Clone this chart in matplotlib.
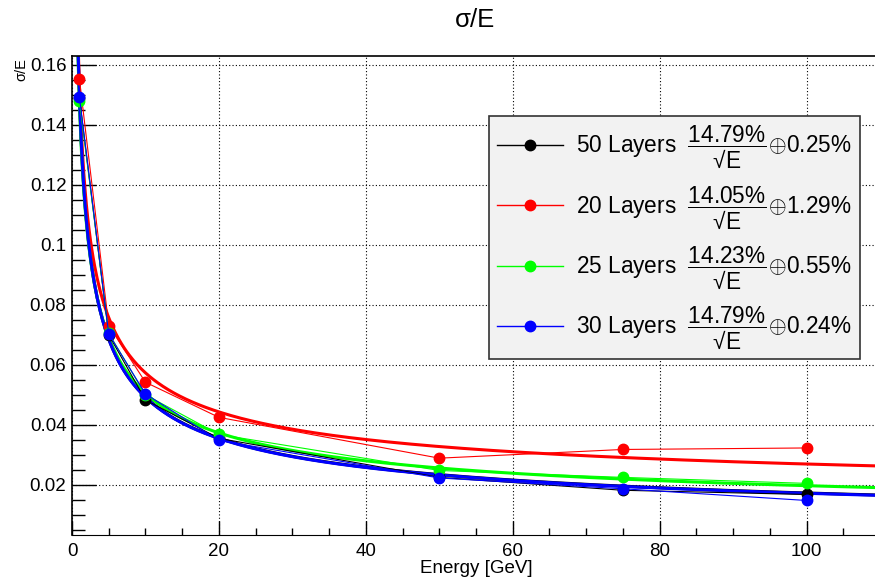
import numpy as np
import matplotlib
matplotlib.use('Agg')
import matplotlib.pyplot as plt
from matplotlib.lines import Line2D
from matplotlib.ticker import MultipleLocator

plt.rcParams['font.family'] = ['Liberation Sans', 'DejaVu Sans']
plt.rcParams['mathtext.fontset'] = 'custom'
plt.rcParams['mathtext.rm'] = 'Liberation Sans'
plt.rcParams['mathtext.it'] = 'Liberation Sans'

###
# data

energy = [1, 5, 10, 20, 50, 75, 100]

labels = ['50 Layers', '20 Layers', '25 Layers', '30 Layers']
colors = ['#000000', '#ff0000', '#00ff00', '#0000ff']

sigma_50 = [0.149, 0.0700, 0.0483, 0.0355, 0.0225, 0.0182, 0.0168]
sigma_20 = [0.1554, 0.0731, 0.0542, 0.0425, 0.0289, 0.0318, 0.0323]
sigma_25 = [0.148, 0.0705, 0.0500, 0.0368, 0.0248, 0.0225, 0.0205]
sigma_30 = [0.1494, 0.0703, 0.0503, 0.0348, 0.0223, 0.0187, 0.0148]
series = [sigma_50, sigma_20, sigma_25, sigma_30]

# fit parameters (stochastic term, constant term) in %
fit_a = [14.79, 14.05, 14.23, 14.79]
fit_b = [0.25, 1.29, 0.55, 0.24]

###
# plotting

W, H = 875, 577
fig = plt.figure(figsize=(W/100, H/100), dpi=100)
ax = fig.add_axes([72/W, 1-535.3/H, (880-72)/W, (535.3-55.7)/H])

e_fit = np.linspace(0.5, 110, 600)
for sig, col, a, b in zip(series, colors, fit_a, fit_b):
    ax.plot(energy, sig, color=col, lw=0.8, marker='o', ms=7.5, zorder=3)
    ax.plot(e_fit, a/100/np.sqrt(e_fit) + b/100, color=col, lw=2.2, zorder=2)

ax.set_xlim(0, 110)
ax.set_ylim(0.0032, 0.163)

ax.xaxis.set_major_locator(MultipleLocator(20))
ax.xaxis.set_minor_locator(MultipleLocator(5))
ax.yaxis.set_major_locator(MultipleLocator(0.02))
ax.yaxis.set_minor_locator(MultipleLocator(0.005))
ax.tick_params(axis='x', which='major', direction='in', length=10, width=1, labelsize=13.5, pad=5.5)
ax.tick_params(axis='x', which='minor', direction='in', length=5, width=1)
ax.tick_params(axis='y', which='major', direction='in', length=17, width=1, labelsize=13.5, pad=4)
ax.tick_params(axis='y', which='minor', direction='in', length=9, width=1)
ax.set_yticks([0.02, 0.04, 0.06, 0.08, 0.1, 0.12, 0.14, 0.16])
ax.set_yticklabels(['0.02', '0.04', '0.06', '0.08', '0.1', '0.12', '0.14', '0.16'])
ax.set_xticks([0, 20, 40, 60, 80, 100])
ax.grid(True, which='major', color='black', linestyle=(0, (1, 2)), lw=0.8)
ax.set_axisbelow(True)
for s in ['top', 'left']:
    ax.spines[s].set_linewidth(1.2)
ax.spines['right'].set_visible(False)

fig.text(475/W, 1-20/H, 'σ/E', ha='center', va='center', fontsize=18.5)
fig.text(21/W, 1-58/H, 'σ/E', ha='center', va='top', rotation=90, fontsize=10.5)
fig.text(476/W, 1-577/H, 'Energy [GeV]', ha='center', va='bottom', fontsize=13.5)

handles = [Line2D([], [], color=c, lw=1, marker='o', ms=7.5) for c in colors]
leg_labels = [f'{n}  $\\dfrac{{{a:.2f}\\%}}{{√E}}\\!\\oplus\\!${b:.2f}%'
              for n, a, b in zip(labels, fit_a, fit_b)]
leg = ax.legend(handles, leg_labels, loc='upper left',
                bbox_to_anchor=(489/W, 1-116/H), bbox_transform=fig.transFigure,
                borderaxespad=0, fontsize=16.3, handlelength=2.9, handletextpad=0.6,
                labelspacing=0.63, borderpad=0.35, fancybox=False,
                facecolor='#f2f2f2', edgecolor='#333333', framealpha=1)
leg.get_frame().set_linewidth(1.2)

plt.savefig('out.png', dpi=100)
plt.close(fig)
